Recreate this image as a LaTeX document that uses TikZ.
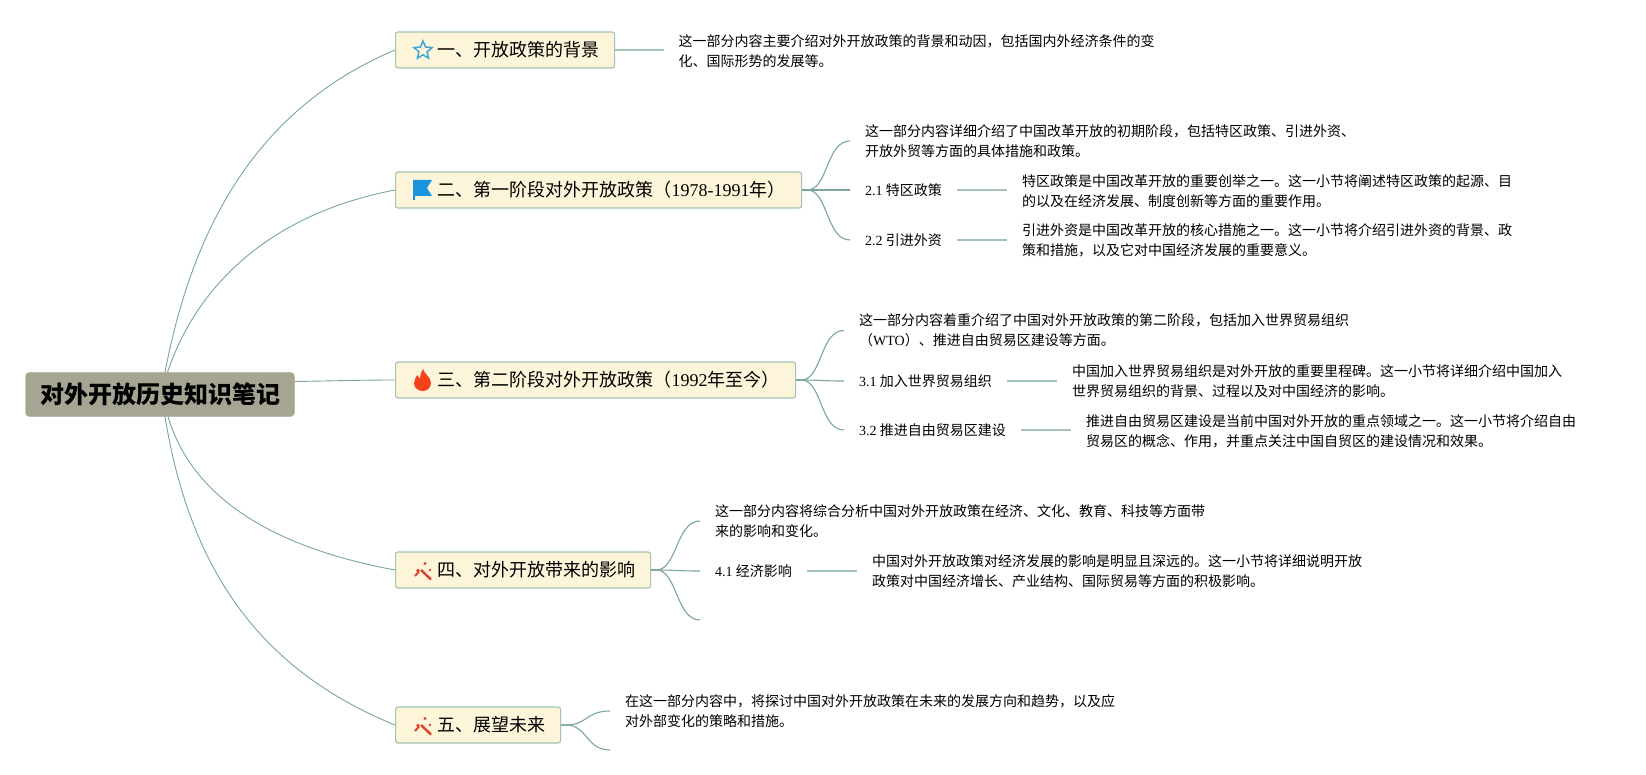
\documentclass[tikz,border=0pt]{standalone}
\usepackage{fontspec}
\setmainfont{Noto Sans CJK SC}
\newfontfamily\latfont{Liberation Serif}
\newcommand{\lat}[1]{{\latfont #1}}
\usetikzlibrary{shapes.geometric}
\definecolor{linec}{HTML}{7BA798}
\definecolor{lineb}{HTML}{A3C4B4}
\definecolor{boxfill}{HTML}{FDF5D9}
\definecolor{rootfill}{HTML}{A6A594}
\definecolor{bluei}{HTML}{1B95E0}
\definecolor{stari}{HTML}{3FA7D6}
\definecolor{redi}{HTML}{E0402C}
\definecolor{flamei}{HTML}{F5421C}
\tikzset{
  x=1pt,y=-1pt,
  rootbox/.style={rectangle,rounded corners=4pt,fill=rootfill,draw=rootfill,minimum width=269pt,minimum height=44pt,inner sep=0pt,font=\fontsize{24}{28}\selectfont\bfseries},
  topic/.style={rectangle,rounded corners=2.5pt,fill=boxfill,draw=lineb,line width=1.2pt,minimum height=36pt,inner sep=0pt,anchor=west,align=left,font=\fontsize{18}{22}\selectfont},
  note/.style={anchor=west,inner xsep=15pt,inner ysep=0pt,align=left,font=\fontsize{14}{20}\selectfont},
  curve/.style={draw=linec,line width=0.9pt},
  branch/.style={draw=linec,line width=1.1pt},
  stub/.style={draw=lineb,line width=1.4pt},
}
\newcommand{\sbr}[2]{\draw[branch] (#1) -- ++(5,0) .. controls +(21,0) and +(-24,0) .. (#2);}
\begin{document}
\begin{tikzpicture}
\useasboundingbox (0,0) rectangle (1646,775);
\fill[white] (0,0) rectangle (1646,775);
% root
\node[rootbox] (root) at (160,394.5) {对外开放历史知识笔记};
% topics
\node[topic,text width=219pt] (b1) at (395,50) {\hspace*{42pt}一、开放政策的背景};
\node[topic,text width=406pt] (b2) at (395,190) {\hspace*{42pt}二、第一阶段对外开放政策（\lat{1978-1991}年）};
\node[topic,text width=400pt] (b3) at (395,380) {\hspace*{42pt}三、第二阶段对外开放政策（\lat{1992}年至今）};
\node[topic,text width=255pt] (b4) at (395,570) {\hspace*{42pt}四、对外开放带来的影响};
\node[topic,text width=165pt] (b5) at (395,725) {\hspace*{42pt}五、展望未来};
% notes
\node[note] (t1) at (663.5,51) {这一部分内容主要介绍对外开放政策的背景和动因，包括国内外经济条件的变\\化、国际形势的发展等。};
\node[note] (t2) at (850,141) {这一部分内容详细介绍了中国改革开放的初期阶段，包括特区政策、引进外资、\\开放外贸等方面的具体措施和政策。};
\node[note] (l21) at (850,190) {\lat{2.1} 特区政策};
\node[note] (t21) at (1007,191) {特区政策是中国改革开放的重要创举之一。这一小节将阐述特区政策的起源、目\\的以及在经济发展、制度创新等方面的重要作用。};
\node[note] (l22) at (850,240) {\lat{2.2} 引进外资};
\node[note] (t22) at (1007,240.5) {引进外资是中国改革开放的核心措施之一。这一小节将介绍引进外资的背景、政\\策和措施，以及它对中国经济发展的重要意义。};
\node[note] (t3) at (844,330.5) {这一部分内容着重介绍了中国对外开放政策的第二阶段，包括加入世界贸易组织\\（\lat{WTO}）、推进自由贸易区建设等方面。};
\node[note] (l31) at (844,381) {\lat{3.1} 加入世界贸易组织};
\node[note] (t31) at (1057,381) {中国加入世界贸易组织是对外开放的重要里程碑。这一小节将详细介绍中国加入\\世界贸易组织的背景、过程以及对中国经济的影响。};
\node[note] (l32) at (844,430) {\lat{3.2} 推进自由贸易区建设};
\node[note] (t32) at (1071,431) {推进自由贸易区建设是当前中国对外开放的重点领域之一。这一小节将介绍自由\\贸易区的概念、作用，并重点关注中国自贸区的建设情况和效果。};
\node[note] (t4) at (700,521) {这一部分内容将综合分析中国对外开放政策在经济、文化、教育、科技等方面带\\来的影响和变化。};
\node[note] (l41) at (700,571) {\lat{4.1} 经济影响};
\node[note] (t41) at (857,571) {中国对外开放政策对经济发展的影响是明显且深远的。这一小节将详细说明开放\\政策对中国经济增长、产业结构、国际贸易等方面的积极影响。};
\node[note] (t5) at (610,711) {在这一部分内容中，将探讨中国对外开放政策在未来的发展方向和趋势，以及应\\对外部变化的策略和措施。};
\coordinate (e4) at (700,620);
\coordinate (e5) at (610,750);
% root connectors
\draw[curve] ([xshift=5pt]root.north) .. controls (195,215) and (265,105) .. (b1.west);
\draw[curve] ([xshift=7.5pt]root.north) .. controls (195,290) and (265,215) .. (b2.west);
\draw[curve] ([yshift=13pt]root.east) .. controls (330,381) and (360,380) .. (b3.west);
\draw[curve] ([xshift=8pt]root.south) .. controls (190,490) and (260,545) .. (b4.west);
\draw[curve] ([xshift=5pt]root.south) .. controls (190,570) and (260,670) .. (b5.west);
% topic connectors
\draw[stub] (b1.east) -- (t1.west |- b1.east);
\sbr{b2.east}{t2.west}
\sbr{b2.east}{l21.west}
\sbr{b2.east}{l22.west}
\draw[stub] (l21.east) -- (t21.west |- l21.east);
\draw[stub] (l22.east) -- (t22.west |- l22.east);
\sbr{b3.east}{t3.west}
\sbr{b3.east}{l31.west}
\sbr{b3.east}{l32.west}
\draw[stub] (l31.east) -- (t31.west |- l31.east);
\draw[stub] (l32.east) -- (t32.west |- l32.east);
\sbr{b4.east}{t4.west}
\sbr{b4.east}{l41.west}
\sbr{b4.east}{e4}
\draw[stub] (l41.east) -- (t41.west |- l41.east);
\sbr{b5.east}{t5.west}
\sbr{b5.east}{e5}
% icons
\node[star,star points=5,star point ratio=2.2,draw=stari,line width=1.5pt,fill=boxfill,minimum size=19pt,inner sep=0pt] (staricon) at (423,50.5) {};
\fill[bluei] (413,180) -- (432,180) -- (427,188) -- (432,196) -- (415,196) -- (415,200) -- (413,200) -- cycle;
\fill[flamei] (423,369) .. controls (424,374) and (431,377) .. (431,383) .. controls (431,388) and (427,391) .. (423,391) .. controls (418,391) and (414,388) .. (414,383) .. controls (414,380) and (416,378) .. (417,375) .. controls (418,377) and (419,378) .. (420,378) .. controls (420,375) and (421,372) .. (423,369) -- cycle;
\foreach \dy in {0,155} {
  \begin{scope}[yshift=-\dy pt]
    \draw[redi,line width=2.4pt] (421,570) -- (431,579.5);
    \draw[redi,line width=2pt] (415,576) -- (419,571.5);
    \fill[redi] (425,563.5) circle (1.7pt);
    \fill[redi] (430,570) circle (1.4pt);
    \fill[redi] (418,570.5) circle (1.8pt);
  \end{scope}
}
\end{tikzpicture}
\end{document}
